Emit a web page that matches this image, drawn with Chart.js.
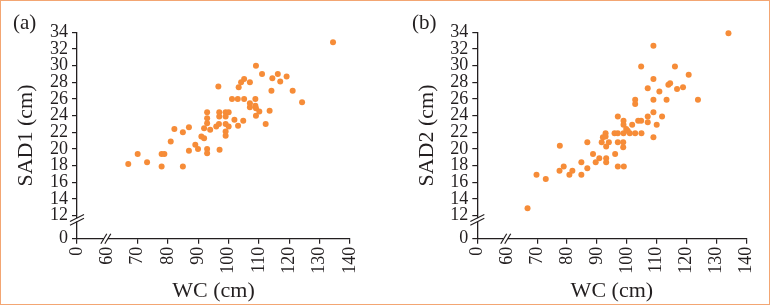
<!DOCTYPE html>
<html><head><meta charset="utf-8">
<script src="https://cdn.jsdelivr.net/npm/chart.js@4"></script>
<style>
html,body{margin:0;padding:0;background:#fff;}
#wrap{position:relative;width:771px;height:306px;overflow:hidden;background:#fff;}
#frame{position:absolute;left:0;top:0;width:770px;height:305px;box-sizing:border-box;border:1.5px solid #f3a673;pointer-events:none;}
#ca{position:absolute;left:0;top:0;width:385px;height:306px;}
#cb{position:absolute;left:385px;top:0;width:386px;height:306px;}
</style></head><body>
<div id="wrap"><canvas id="ca" width="385" height="306"></canvas><canvas id="cb" width="386" height="306"></canvas><div id="frame"></div></div>
<script>
// Panel (a): WC vs SAD1
const wcA = [66.9,70.0,73.1,77.9,78.8,77.9,80.9,82.1,84.9,84.9,86.9,86.9,89.0,89.9,91.0,91.9,91.9,92.9,92.9,92.9,92.9,92.9,93.9,95.9,96.8,96.6,96.9,96.9,97.0,99.0,100.0,99.0,99.0,100.0,99.0,99.0,101.9,103.1,104.8,101.1,103.0,105.1,103.3,104.1,105.1,107.0,109.0,111.0,107.0,107.0,108.8,108.8,109.0,109.0,110.1,112.2,113.5,114.1,114.4,116.2,117.0,119.1,121.1,124.2,134.4];
const sad1 = [18.2,19.4,18.4,19.4,19.4,17.9,20.9,22.4,22.0,17.9,22.6,19.8,20.5,20.0,21.5,21.3,22.5,24.4,23.7,23.1,20.0,19.5,22.3,22.7,23.0,27.5,24.4,23.9,19.9,24.4,24.4,23.9,23.0,22.7,22.1,21.6,23.5,22.8,23.4,26.0,26.0,26.0,27.4,28.0,28.4,28.0,30.0,29.0,25.5,25.0,26.0,25.2,24.9,24.0,24.5,23.0,24.6,27.0,28.5,29.0,28.1,28.7,27.0,25.6,32.8];
// Panel (b): WC vs SAD2
const wcB = [66.8,69.8,72.9,77.6,77.5,78.9,80.8,81.8,84.8,84.8,86.8,86.8,88.7,89.6,90.8,91.6,92.0,92.9,92.9,93.1,93.1,93.1,94.0,95.9,96.1,97.0,97.0,97.0,97.0,98.9,98.9,98.9,98.8,98.8,99.0,99.8,100.3,101.0,101.8,102.8,104.9,102.8,102.8,103.8,104.8,104.8,107.0,107.0,107.0,108.9,108.9,108.9,108.9,108.9,110.0,110.9,111.8,113.3,113.9,114.5,116.1,116.8,118.8,120.7,123.8,134.0];
const sad2 = [12.9,16.9,16.4,20.4,17.4,17.9,16.9,17.4,18.4,16.9,20.8,17.7,19.4,18.4,18.9,20.8,21.4,21.9,21.5,20.3,18.9,18.4,20.8,21.9,19.4,23.9,21.9,20.8,17.9,23.4,22.9,21.9,20.8,20.2,17.9,22.4,22.2,21.9,22.9,21.9,21.9,25.9,25.4,23.4,23.4,29.9,23.9,23.2,27.3,32.4,28.4,25.9,24.4,21.4,22.9,26.9,23.9,25.9,27.7,27.9,29.9,27.2,27.4,28.9,25.9,33.9];

// Axis ticks (the "0" tick sits where the broken axis starts)
const xTickLabels = ['0','60','70','80','90','100','110','120','130','140'];
const xTickValues = [50,60,70,80,90,100,110,120,130,140];
const yTickLabels = ['0','12','14','16','18','20','22','24','26','28','30','32','34'];
const yTickValues = [9.24,12,14,16,18,20,22,24,26,28,30,32,34];
const X_BREAK = 59.5, Y_BREAK = 11.5;

const INK = '#231f20';
const DOT = '#f68c38';
const SERIF = '"Liberation Serif", "Times New Roman", serif';

function breakPlugin(label, labelX) {
  return {
    id: 'breaks',
    afterDraw(chart) {
      const {ctx, scales: {x, y}, chartArea: a} = chart;
      const xb = x.getPixelForValue(X_BREAK);
      const yb = y.getPixelForValue(Y_BREAK);
      ctx.save();
      ctx.fillStyle = '#fff';
      ctx.fillRect(xb - 2, a.bottom - 2, 4, 4);
      ctx.fillRect(a.left - 2, yb - 1.6, 4, 3.2);
      ctx.strokeStyle = INK; ctx.lineWidth = 1.2;
      for (const d of [-2, 2]) {
        ctx.beginPath(); ctx.moveTo(xb + d - 3, a.bottom + 5); ctx.lineTo(xb + d + 3, a.bottom - 5); ctx.stroke();
      }
      for (const d of [-1.8, 1.8]) {
        ctx.beginPath(); ctx.moveTo(a.left - 7, yb + d + 3.5); ctx.lineTo(a.left + 7, yb + d - 3.5); ctx.stroke();
      }
      ctx.fillStyle = INK; ctx.font = '21px ' + SERIF; ctx.textBaseline = 'alphabetic'; ctx.textAlign = 'left';
      ctx.fillText(label, labelX, 29);
      ctx.restore();
    }
  };
}

function makeChart(id, xs, ys, yTitle, label, g) {
  const pts = xs.map((v, i) => ({x: v, y: ys[i]}));
  return new Chart(document.getElementById(id), {
    type: 'scatter',
    data: {datasets: [{data: pts, backgroundColor: DOT, borderWidth: 0, pointRadius: 3, pointHoverRadius: 3, clip: false}]},
    options: {
      responsive: false, animation: false,
      layout: {padding: {top: g.top, right: g.W - g.right, left: 0, bottom: 0}},
      plugins: {legend: {display: false}, tooltip: {enabled: false}},
      scales: {
        x: {
          type: 'linear', min: 50, max: 140,
          afterBuildTicks: s => { s.ticks = xTickValues.map(v => ({value: v})); },
          afterFit: s => { s.height = g.H - g.bottom; },
          ticks: {autoSkip: false, maxRotation: 90, minRotation: 90, padding: 3, color: INK,
                  font: {family: SERIF, size: 18}, callback: (v, i) => xTickLabels[i]},
          grid: {drawOnChartArea: false, drawTicks: true, tickLength: 5, lineWidth: 1.2,
                 tickColor: c => (c.tick && c.tick.value === 60) ? 'rgba(0,0,0,0)' : INK},
          border: {color: INK, width: 1.3},
          title: {display: true, text: 'WC (cm)', color: INK, font: {family: SERIF, size: 22}, padding: {top: 0, bottom: 2}}
        },
        y: {
          type: 'linear', min: 9.24, max: 34,
          afterBuildTicks: s => { s.ticks = yTickValues.map(v => ({value: v})); },
          afterFit: s => { s.width = g.left; },
          ticks: {autoSkip: false, padding: 4, color: INK, font: {family: SERIF, size: 18},
                  callback: (v, i) => yTickLabels[i]},
          grid: {drawOnChartArea: false, drawTicks: true, tickLength: 5, lineWidth: 1.2, tickColor: INK},
          border: {color: INK, width: 1.3},
          title: {display: true, text: yTitle, color: INK, font: {family: SERIF, size: 22}, padding: {top: g.yPad, bottom: 0}}
        }
      }
    },
    plugins: [breakPlugin(label, g.labelX)]
  });
}

makeChart('ca', wcA, sad1, 'SAD1 (cm)', '(a)', {W: 385, H: 306, left: 77, right: 350, top: 32.33, bottom: 238.7, yPad: 13, labelX: 13});
makeChart('cb', wcB, sad2, 'SAD2 (cm)', '(b)', {W: 386, H: 306, left: 92.3, right: 365, top: 32.33, bottom: 238.7, yPad: 29, labelX: 27});
</script>
</body></html>
